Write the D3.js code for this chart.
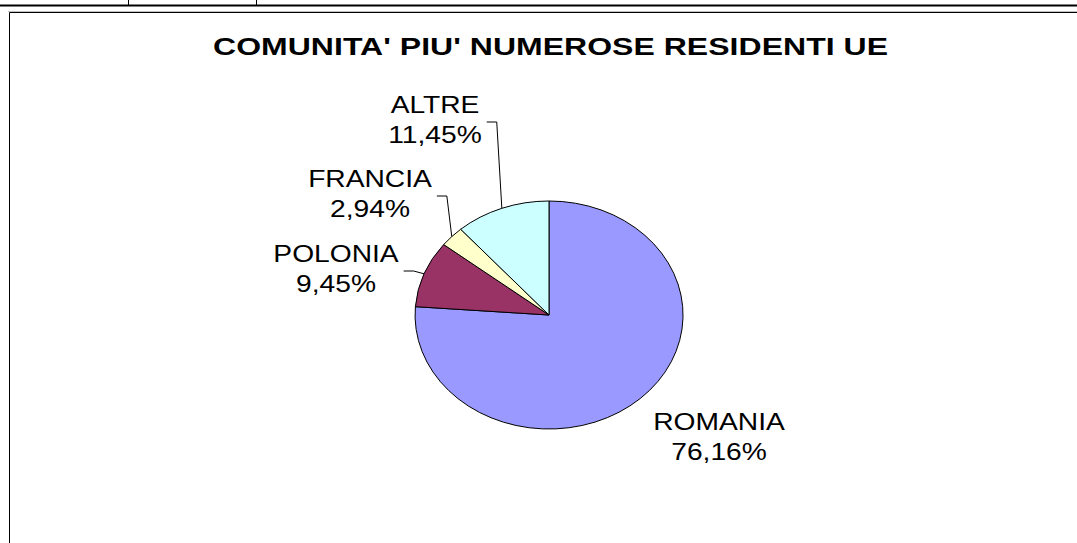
<!DOCTYPE html>
<html>
<head>
<meta charset="utf-8">
<script src="https://cdn.jsdelivr.net/npm/d3@7"></script>
<style>
  html, body { margin: 0; padding: 0; background: #fff; }
  svg { display: block; }
</style>
</head>
<body>
<script>
// ---- data ----
const categories = ["ROMANIA", "POLONIA", "FRANCIA", "ALTRE"];
const values = [76.16, 9.45, 2.94, 11.45];
const percentLabels = ["76,16%", "9,45%", "2,94%", "11,45%"];
const colors = ["#9999FF", "#993366", "#FFFFCC", "#CCFFFF"];
const title = "COMUNITA' PIU' NUMEROSE RESIDENTI UE";

// ---- layout ----
const W = 1077, H = 543;
const cx = 549, cy = 315, rx = 134, ry = 114;
const sx = 1.2;             // horizontal stretch of the original picture
const titleSx = 1.36;
const fontSize = 23.5;
const lineGap = 30;
// label block anchors (center x, first baseline y), in category order
const labelPos = [[719, 430], [336, 262], [370, 187], [435, 113]];
const hasLeader = [false, true, true, true];

const svg = d3.select("body").append("svg")
  .attr("width", W).attr("height", H);

// frame lines
svg.append("line").attr("x1", 0).attr("x2", W).attr("y1", 5.5).attr("y2", 5.5)
  .attr("stroke", "#000").attr("stroke-width", 2);
[128.5, 256.5].forEach(x => svg.append("line").attr("x1", x).attr("x2", x)
  .attr("y1", 0).attr("y2", 5).attr("stroke", "#000").attr("stroke-width", 1));
svg.append("line").attr("x1", 8).attr("x2", W).attr("y1", 11.5).attr("y2", 11.5)
  .attr("stroke", "#c0c0c0").attr("stroke-width", 1);
svg.append("path").attr("d", `M9.5,${H} V12.5 H${W}`)
  .attr("fill", "none").attr("stroke", "#000").attr("stroke-width", 1);

// title
svg.append("text")
  .attr("transform", `translate(550.5,55) scale(${titleSx},1)`)
  .attr("text-anchor", "middle")
  .attr("font-family", "'Liberation Sans', Arial, sans-serif")
  .attr("font-weight", "bold")
  .attr("font-size", fontSize)
  .attr("textLength", 675 / titleSx)
  .attr("lengthAdjust", "spacing")
  .attr("fill", "#000")
  .text(title);

// pie
const pie = d3.pie().sort(null).value(d => d)(values);
const arc = d3.arc().innerRadius(0).outerRadius(1);
const g = svg.append("g").attr("transform", `translate(${cx},${cy}) scale(${rx},${ry})`);
g.selectAll("path").data(pie).join("path")
  .attr("d", arc)
  .attr("fill", (d, i) => colors[i])
  .attr("stroke", "#000")
  .attr("stroke-width", 1)
  .attr("vector-effect", "non-scaling-stroke");

// labels
pie.forEach((d, i) => {
  const [lx, ly] = labelPos[i];
  const lines = [categories[i], percentLabels[i]];
  let maxW = 0;
  lines.forEach((t, k) => {
    const txt = svg.append("text")
      .attr("transform", `translate(${lx},${ly + k * lineGap}) scale(${sx},1)`)
      .attr("text-anchor", "middle")
      .attr("font-family", "'Liberation Sans', Arial, sans-serif")
      .attr("font-size", fontSize)
      .attr("fill", "#000")
      .text(t);
    maxW = Math.max(maxW, txt.node().getComputedTextLength() * sx);
  });
  if (hasLeader[i]) {
    const a = (d.startAngle + d.endAngle) / 2;
    const ex = cx + rx * Math.sin(a), ey = cy - ry * Math.cos(a);
    const x0 = lx + maxW / 2 + 5, y0 = ly + 9;
    svg.append("path")
      .attr("d", `M${x0},${y0} H${x0 + 10} L${ex},${ey}`)
      .attr("fill", "none").attr("stroke", "#000").attr("stroke-width", 1);
  }
});
</script>
</body>
</html>
